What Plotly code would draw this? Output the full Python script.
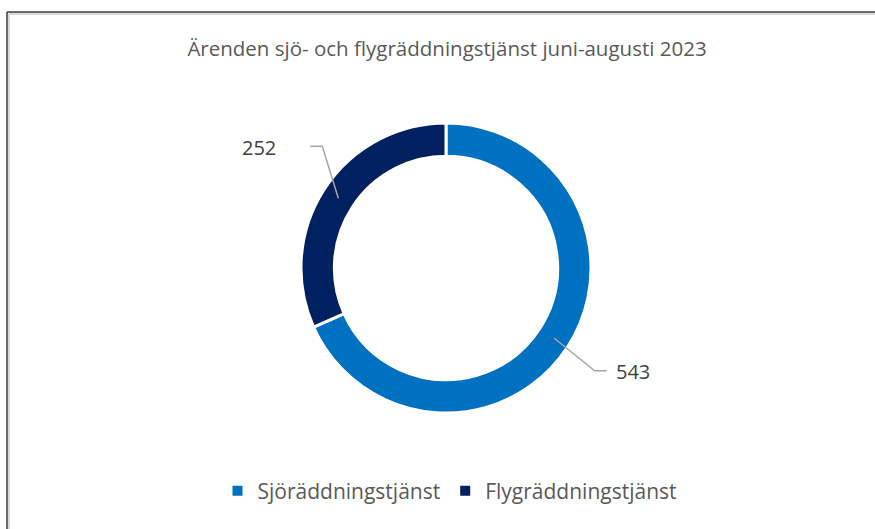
import math
import plotly.graph_objects as go

categories = ["Sjöräddningstjänst", "Flygräddningstjänst"]
values = [543, 252]
colors = ["#0070C0", "#002060"]
title_text = "Ärenden sjö- och flygräddningstjänst juni-augusti 2023"

W, H = 875, 529
cx, cy = 446, 268
R = 145
HOLE = 0.77
FONT = "Open Sans"


def px(x):
    return x / W


def py(y):
    return 1 - y / H


fig = go.Figure(
    go.Pie(
        labels=categories,
        values=values,
        hole=HOLE,
        sort=False,
        direction="clockwise",
        rotation=0,
        marker=dict(colors=colors, line=dict(color="white", width=3)),
        textinfo="none",
        hoverinfo="label+value",
        domain=dict(x=[px(cx - R), px(cx + R)], y=[py(cy + R), py(cy - R)]),
    )
)

# leader lines + value labels, positioned from slice mid-angles
total = sum(values)
r_mid = R * (1 + HOLE) / 2
elbow_offsets = [(41, 33), (-16, -52)]
shapes = []
annotations = []
cum = 0
for v, (ox, oy) in zip(values, elbow_offsets):
    ang = math.radians((cum + v / 2) / total * 360)
    cum += v
    sx = cx + r_mid * math.sin(ang)
    sy = cy - r_mid * math.cos(ang)
    ex, ey = sx + ox, sy + oy
    side = 1 if math.sin(ang) > 0 else -1
    hx = ex + side * 12
    path = f"M {px(sx)},{py(sy)} L {px(ex)},{py(ey)} L {px(hx)},{py(ey)}"
    shapes.append(dict(type="path", xref="paper", yref="paper", path=path,
                       line=dict(color="#A6A6A6", width=1.5)))
    if side > 0:
        tx, anchor = hx + 7, "left"
    else:
        tx, anchor = hx - 32, "right"
    annotations.append(dict(x=px(tx), y=py(ey + 1), xref="paper", yref="paper",
                            text=str(v), showarrow=False, xanchor=anchor, yanchor="middle",
                            font=dict(family=FONT, size=20, color="#404040")))

# chart border (top and left edges visible)
shapes += [
    dict(type="line", xref="paper", yref="paper", x0=px(9), y0=py(14), x1=px(900), y1=py(14),
         line=dict(color="#D9D9D9", width=2)),
    dict(type="line", xref="paper", yref="paper", x0=px(9), y0=py(14), x1=px(9), y1=py(560),
         line=dict(color="#D9D9D9", width=2)),
    dict(type="line", xref="paper", yref="paper", x0=px(7), y0=py(12), x1=px(900), y1=py(12),
         line=dict(color="#3A3A3A", width=1.5)),
    dict(type="line", xref="paper", yref="paper", x0=px(7), y0=py(12), x1=px(7), y1=py(560),
         line=dict(color="#3A3A3A", width=1.5)),
]

fig.update_layout(
    width=W,
    height=H,
    margin=dict(l=0, r=0, t=0, b=0),
    paper_bgcolor="white",
    plot_bgcolor="white",
    title=dict(text=title_text, x=px(447), y=py(49), xanchor="center", yanchor="middle",
               font=dict(family=FONT, size=20.5, color="#595959")),
    showlegend=True,
    legend=dict(orientation="h", x=px(450), y=py(491), xanchor="center", yanchor="middle",
                font=dict(family=FONT, size=21, color="#595959"), itemsizing="constant",
                traceorder="normal"),
    shapes=shapes,
    annotations=annotations,
)

fig.write_html(
    "out.html",
    config={"displayModeBar": False},
    post_script="document.body.style.margin='0';document.body.style.overflow='hidden';",
)
